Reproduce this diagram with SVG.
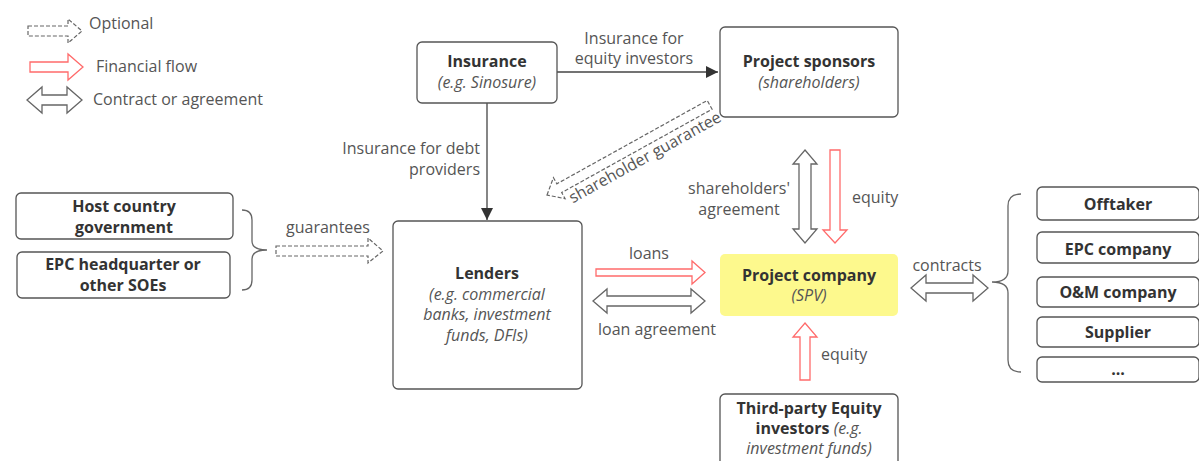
<svg xmlns="http://www.w3.org/2000/svg" width="1199" height="461" viewBox="0 0 1199 461">
<style>
text{font-family:"Open Sans","Noto Sans","Liberation Sans",sans-serif;font-size:16px}
.box{fill:#fff;stroke:#555;stroke-width:1.3}
.t{font-weight:bold;fill:#333;text-anchor:middle}
.i{font-style:italic;fill:#555;text-anchor:middle}
.lbl{fill:#555}
.m{text-anchor:middle}
.e{text-anchor:end}
.red{fill:#fff;stroke:#ff6b6b;stroke-width:1.3}
.gry{fill:#fff;stroke:#666;stroke-width:1.3}
.dash{fill:#fff;stroke:#666;stroke-width:1.2;stroke-dasharray:4 2}
.line{stroke:#444;stroke-width:1.3;fill:none}
.brace{stroke:#666;stroke-width:1.3;fill:none}
</style>
<defs>
<marker id="ah" viewBox="0 0 12 12" refX="12" refY="6" markerWidth="12" markerHeight="12" markerUnits="userSpaceOnUse" orient="auto">
<path d="M0,0 L12,6 L0,12 z" fill="#333"/>
</marker>
</defs>
<rect width="1199" height="461" fill="#fff"/>

<g id="legend">
<polygon class="dash" points="28,26 68,26 68,19 82,31 68,43 68,36 28,36"/>
<text class="lbl" x="89" y="29">Optional</text>
<polygon class="red" points="30,62 68,62 68,54 83,67 68,80 68,72 30,72"/>
<text class="lbl" x="96" y="72">Financial flow</text>
<polygon class="gry" points="27,100 42,87 42,95 67,95 67,87 82,100 67,113 67,105 42,105 42,113"/>
<text class="lbl" x="93" y="105">Contract or agreement</text>
</g>

<g id="connectors">
<path class="line" d="M557,72 L718,72" marker-end="url(#ah)"/>
<text class="lbl m" x="634" y="44">Insurance for</text>
<text class="lbl m" x="634" y="64">equity investors</text>
<path class="line" d="M487,103 L487,220" marker-end="url(#ah)"/>
<text class="lbl e" x="480" y="154">Insurance for debt</text>
<text class="lbl e" x="480" y="175">providers</text>
<g transform="translate(547,195) rotate(-29)">
<polygon class="dash" points="0,0 14,-12 14,-5 186,-5 186,5 14,5 14,12"/>
<text class="lbl m" x="104" y="20">shareholder guarantee</text>
</g>
<path class="brace" d="M242,210 Q252,210 252,220 L252,241 Q252,250 267,250 Q252,250 252,259 L252,280 Q252,290 242,290"/>
<polygon class="dash" points="276,246 368,246 368,238 383,251 368,263 368,256 276,256"/>
<text class="lbl m" x="328" y="233">guarantees</text>
<polygon class="red" points="596,269 692,269 692,261 705,272.5 692,284 692,276 596,276"/>
<text class="lbl m" x="649" y="259">loans</text>
<polygon class="gry" points="593,301 607,289 607,296 691,296 691,289 705,301 691,313 691,306 607,306 607,313"/>
<text class="lbl m" x="657" y="335">loan agreement</text>
<polygon class="gry" points="805,150 817,164 811,164 811,229 817,229 805,243 793,229 799,229 799,164 793,164"/>
<text class="lbl m" x="739" y="194">shareholders'</text>
<text class="lbl m" x="739" y="215">agreement</text>
<polygon class="red" points="830,150 840,150 840,230 847,230 835,243 823,230 830,230"/>
<text class="lbl" x="852" y="203">equity</text>
<polygon class="red" points="805,323 817,337 810,337 810,380 800,380 800,337 793,337"/>
<text class="lbl" x="821" y="360">equity</text>
<polygon class="gry" points="911,288 926,275 926,283 973,283 973,275 988,288 973,301 973,293 926,293 926,301"/>
<text class="lbl m" x="947" y="271">contracts</text>
<path class="brace" d="M1021,194 Q1008,194 1008,206 L1008,271 Q1008,282 992,282 Q1008,282 1008,293 L1008,360 Q1008,372 1021,372"/>
</g>

<g id="insurance">
<rect class="box" x="417" y="42" width="140" height="61" rx="5"/>
<text class="t" x="487" y="67">Insurance</text>
<text class="i" x="487" y="88">(e.g. Sinosure)</text>
</g>
<g id="sponsors">
<rect class="box" x="720" y="27" width="178" height="90" rx="5"/>
<text class="t" x="809" y="67">Project sponsors</text>
<text class="i" x="809" y="88">(shareholders)</text>
</g>
<g id="host-government">
<rect class="box" x="16" y="193" width="217" height="46" rx="5"/>
<text class="t" x="124" y="212">Host country</text>
<text class="t" x="124" y="233">government</text>
</g>
<g id="epc-hq">
<rect class="box" x="17" y="252" width="213" height="46" rx="5"/>
<text class="t" x="123" y="270">EPC headquarter or</text>
<text class="t" x="123" y="291">other SOEs</text>
</g>
<g id="lenders">
<rect class="box" x="393" y="221" width="189" height="168" rx="5"/>
<text class="t" x="487" y="279">Lenders</text>
<text class="i" x="487" y="300">(e.g. commercial</text>
<text class="i" x="487" y="320">banks, investment</text>
<text class="i" x="487" y="341">funds, DFIs)</text>
</g>
<g id="project-company">
<rect x="720" y="254" width="178" height="62" rx="5" fill="#fdf98d"/>
<text class="t" x="809" y="281">Project company</text>
<text class="i" x="809" y="301" fill="#777">(SPV)</text>
</g>
<g id="third-party">
<rect class="box" x="720" y="394" width="178" height="72" rx="5"/>
<text class="t" x="809" y="414">Third-party Equity</text>
<text x="809" y="434" text-anchor="middle"><tspan font-weight="bold" fill="#333">investors </tspan><tspan font-style="italic" fill="#555">(e.g.</tspan></text>
<text class="i" x="809" y="454">investment funds)</text>
</g>
<g id="offtaker">
<rect class="box" x="1037" y="187" width="162" height="33" rx="5"/>
<text class="t" x="1118" y="210">Offtaker</text>
</g>
<g id="epc-company">
<rect class="box" x="1037" y="232" width="162" height="31" rx="5"/>
<text class="t" x="1118" y="255">EPC company</text>
</g>
<g id="om-company">
<rect class="box" x="1037" y="277" width="162" height="30" rx="5"/>
<text class="t" x="1118" y="298">O&amp;M company</text>
</g>
<g id="supplier">
<rect class="box" x="1037" y="317" width="162" height="30" rx="5"/>
<text class="t" x="1118" y="338">Supplier</text>
</g>
<g id="others">
<rect class="box" x="1037" y="357" width="162" height="25" rx="5"/>
<text class="t" x="1118" y="375" font-weight="normal" fill="#666">...</text>
</g>
</svg>
